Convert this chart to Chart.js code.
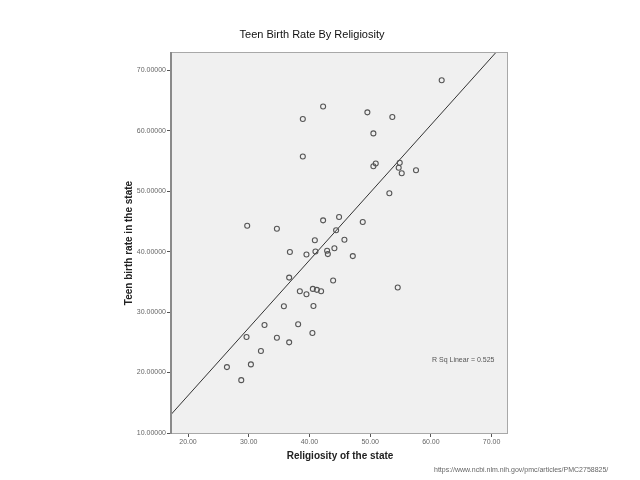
<!DOCTYPE html>
<html>
<head>
<meta charset="utf-8">
<script src="https://cdn.jsdelivr.net/npm/chart.js@4"></script>
<style>
  body { margin: 0; background: #fff; }
</style>
</head>
<body>
<canvas id="birthChart" width="640" height="480"></canvas>
<script>
    // religiosity (x) and teen birth rate (y), one entry per state
    var religiosity = [42.25, 38.91, 38.91, 29.75, 34.64, 42.25, 44.88, 44.39, 40.89, 44.11,
        61.78, 49.54, 53.65, 50.53, 50.92, 50.53, 54.87, 54.70, 55.20, 57.55,
        53.16, 48.78, 45.76, 36.78, 39.51, 40.99, 42.91, 43.03, 36.66, 43.90,
        38.42, 39.51, 40.56, 41.22, 41.92, 35.79, 40.66, 32.60, 38.14, 29.64,
        34.64, 36.66, 40.49, 32.01, 26.41, 30.36, 28.77, 47.14, 54.54];
    var birthRate = [64.00, 61.91, 55.72, 44.28, 43.78, 45.16, 45.72, 43.53, 41.87, 40.55,
        68.33, 63.02, 62.24, 59.54, 54.56, 54.11, 54.68, 53.85, 52.95, 53.45,
        49.64, 44.89, 41.96, 39.92, 39.52, 40.02, 40.13, 39.58, 35.70, 35.21,
        33.45, 32.95, 33.83, 33.67, 33.45, 30.96, 31.01, 27.86, 27.98, 25.87,
        25.75, 24.99, 26.53, 23.55, 20.90, 21.34, 18.74, 39.25, 34.05];

    // fit line end points (R Sq Linear = 0.525)
    var fitX = [17.2, 70.78];
    var fitY = [13.05, 73.0];

    var xTicks = [20, 30, 40, 50, 60, 70];
    var yTicks = [10, 20, 30, 40, 50, 60, 70];

    var points = religiosity.map(function(v, i) { return {x: v, y: birthRate[i]}; });
    var fitLine = fitX.map(function(v, i) { return {x: v, y: fitY[i]}; });

    var spssLook = {
        id: 'spssLook',
        beforeDraw: function(chart) {
            var c = chart.ctx, a = chart.chartArea;
            c.save();
            c.fillStyle = '#F0F0F0';
            c.fillRect(a.left, a.top, a.right - a.left, a.bottom - a.top);
            c.restore();
        },
        afterDraw: function(chart) {
            var c = chart.ctx, a = chart.chartArea;
            c.save();
            c.strokeStyle = '#A8A8A8';
            c.lineWidth = 1;
            c.strokeRect(a.left + 0.5, a.top + 0.5, a.right - a.left - 1, a.bottom - a.top);
            c.strokeStyle = '#8A8A8A';
            c.lineWidth = 2;
            c.beginPath();
            c.moveTo(a.left, a.top);
            c.lineTo(a.left, a.bottom + 1);
            c.stroke();

            c.fillStyle = '#111';
            c.textAlign = 'center';
            c.textBaseline = 'middle';
            c.font = '11px "Liberation Sans", Arial, sans-serif';
            c.fillText('Teen Birth Rate By Religiosity', 312, 35);

            c.fillStyle = '#222';
            c.font = 'bold 10px "Liberation Sans", Arial, sans-serif';
            c.fillText('Religiosity of the state', 340, 456);
            c.save();
            c.translate(129, 243);
            c.rotate(-Math.PI / 2);
            c.fillText('Teen birth rate in the state', 0, 0);
            c.restore();

            c.fillStyle = '#555';
            c.font = '7px "Liberation Sans", Arial, sans-serif';
            c.textAlign = 'left';
            c.fillText('R Sq Linear = 0.525', 432, 360);

            c.fillStyle = '#666';
            c.font = '7px "Liberation Sans", Arial, sans-serif';
            c.fillText('https://www.ncbi.nlm.nih.gov/pmc/articles/PMC2758825/', 434, 470);
            c.restore();
        }
    };

    window.onload = function() {
        new Chart('birthChart', {
            type: 'scatter',
            data: {
                datasets: [{
                    data: points,
                    pointStyle: 'circle',
                    pointRadius: 2.5,
                    pointBorderWidth: 1.1,
                    pointBorderColor: '#555',
                    pointBackgroundColor: 'rgba(0,0,0,0)'
                }, {
                    data: fitLine,
                    showLine: true,
                    pointRadius: 0,
                    borderColor: '#333',
                    borderWidth: 1
                }]
            },
            options: {
                responsive: false,
                animation: false,
                layout: {
                    padding: {top: 52, right: 132, bottom: 0, left: 0}
                },
                plugins: {
                    legend: {display: false},
                    tooltip: {enabled: false}
                },
                scales: {
                    x: {
                        type: 'linear',
                        min: 17.2,
                        max: 72.7,
                        afterFit: function(s) { s.height = 47; },
                        afterBuildTicks: function(s) {
                            s.ticks = xTicks.map(function(v) { return {value: v}; });
                        },
                        border: {display: false},
                        grid: {drawOnChartArea: false, tickLength: 4, color: '#555'},
                        ticks: {
                            padding: 1,
                            color: '#666',
                            font: {family: '"Liberation Sans", Arial, sans-serif', size: 7},
                            callback: function(v) { return v.toFixed(2); }
                        }
                    },
                    y: {
                        type: 'linear',
                        min: 10,
                        max: 73,
                        afterFit: function(s) { s.width = 171; },
                        afterBuildTicks: function(s) {
                            s.ticks = yTicks.map(function(v) { return {value: v}; });
                        },
                        border: {display: false},
                        grid: {drawOnChartArea: false, tickLength: 4, color: '#555'},
                        ticks: {
                            padding: 1,
                            color: '#666',
                            font: {family: '"Liberation Sans", Arial, sans-serif', size: 7},
                            callback: function(v) { return v.toFixed(5); }
                        }
                    }
                }
            },
            plugins: [spssLook]
        });
    };
</script>
</body>
</html>
